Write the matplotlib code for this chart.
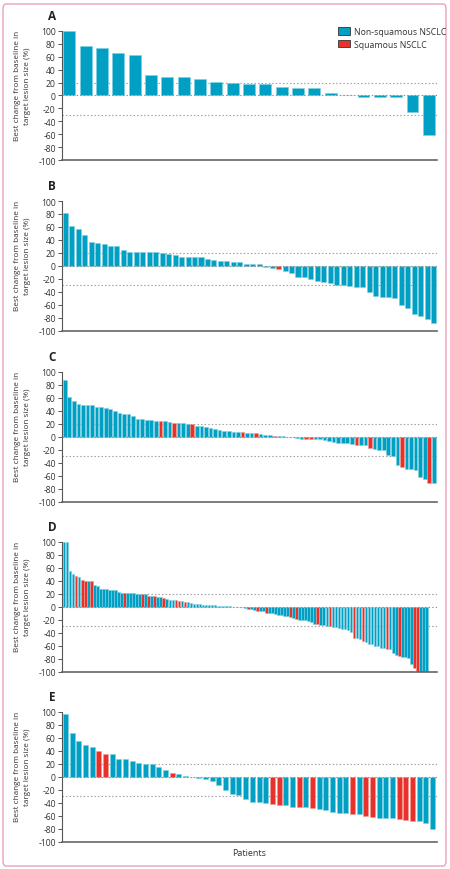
import matplotlib
matplotlib.use("Agg")
import matplotlib.pyplot as plt
from matplotlib.patches import Patch, FancyBboxPatch

plt.rcParams['font.family'] = ['Open Sans', 'DejaVu Sans']
plt.rcParams['axes.unicode_minus'] = False

# ---------------- data ----------------
panel_labels = ["A", "B", "C", "D", "E"]

a_vals = [100, 76, 73, 66, 62, 32, 29, 28, 26, 21, 20, 18, 17, 13, 12, 11, 4, 1, -2, -2, -3, -25, -61]
a_squamous = []

b_vals = [81, 61, 56, 48, 37, 35, 34, 31, 31, 24, 22, 22, 21, 21, 21, 20, 18, 17, 14, 14,
          14, 13, 10, 9, 8, 7, 6, 6, 3, 3, 2, -2, -4, -5, -8, -11, -17, -17, -21, -23,
          -25, -26, -29, -29, -31, -33, -33, -40, -46, -48, -48, -50, -60, -65, -74, -77, -82, -89]
b_squamous = [33]

c_vals = [87, 62, 55, 51, 49, 49, 49, 46, 45.5, 45, 43, 39, 37, 35, 35, 32, 28, 27, 26, 26,
          25, 25, 25, 22.5, 21.5, 21, 21, 20, 19, 17, 16, 15, 13, 12, 11, 9, 9, 7, 7, 7,
          6, 6, 6, 4, 3, 2, 1.5, 1, 0.5, 0.3, -1, -2, -3, -3, -4, -4, -4, -5, -6, -8,
          -9, -9, -10, -11, -13, -13, -13, -18, -19, -20, -21, -28, -30, -43, -47, -50, -50, -51, -62, -66,
          -72, -72]
c_squamous = [21, 24, 28, 39, 42, 46, 53, 54, 64, 67, 74, 80]

d_vals = [100, 100, 55, 51, 48, 46, 42, 40, 40, 39, 33, 32, 28, 28, 27, 26, 26, 26, 23, 22,
          21, 21, 21, 21, 20, 20, 19, 19, 17, 17, 16, 15, 15, 14, 12, 11, 11, 10, 9, 9,
          8, 7, 6, 5, 4, 4, 3, 3, 2, 2, 2, 1, 1, 1, 0.5, 0.5, 0.3, -0.3, -0.5, -1,
          -2, -3, -4, -5, -6, -6, -7, -10, -9, -10, -11, -12, -13, -14, -15, -16, -17, -19, -20, -20,
          -21, -22, -24, -26, -27, -28, -28, -29, -29, -31, -32, -33, -34, -35, -36, -39, -48, -49, -50, -53,
          -55, -57, -58, -60, -61, -63, -64, -65, -66, -71, -75, -76, -77, -78, -79, -88, -94, -100, -100, -100,
          -100]
d_squamous = [4, 6, 7, 9, 20, 26, 28, 30, 33, 37, 38, 40, 61, 64, 67, 75, 77, 84, 88, 96, 99, 107, 111, 116, 117]

e_vals = [97, 67, 55, 49, 46, 40, 35, 35, 28, 28, 24, 21, 20, 20, 15, 11, 6, 5, 1, -1,
          -2, -3, -6, -13, -21, -26, -28, -34, -39, -39, -40, -42, -43, -43, -46, -46, -47, -48, -50, -51,
          -54, -56, -56, -57, -57, -61, -62, -64, -64, -64, -65, -67, -68, -68, -72, -80]
e_squamous = [5, 6, 16, 31, 32, 35, 37, 43, 45, 46, 50, 51, 52]

yticks = [100, 80, 60, 40, 20, 0, -20, -40, -60, -80, -100]
ref_lines = [20, -30]
legend_labels = ["Non-squamous NSCLC", "Squamous NSCLC"]
ylabel_text = "Best change from baseline in\ntarget lesion size (%)"
xlabel_text = "Patients"

# ---------------- style ----------------
BLUE = "#00a0c4"
BLUE_EDGE = "#7fd0e2"
RED = "#e8312a"
RED_EDGE = "#f29a93"
TXT = "#333333"

W, H = 450, 870
fig = plt.figure(figsize=(W / 100, H / 100), dpi=100)

# pink frame
frame = FancyBboxPatch((3 / W, 3 / H), 443 / W, 862 / H, boxstyle="round,pad=0,rounding_size=0.006",
                       transform=fig.transFigure, facecolor="none", edgecolor="#e9a3b9", linewidth=1.0)
fig.patches.append(frame)

panels = [
    (a_vals, a_squamous, 31.7, 0.73, (-0.45, 0.5)),
    (b_vals, b_squamous, 202, 0.78, (-0.5, 0.5)),
    (c_vals, c_squamous, 373, 0.8, (-0.6, 0.7)),
    (d_vals, d_squamous, 543, 0.85, (-0.7, 3.5)),
    (e_vals, e_squamous, 713, 0.75, (-0.5, 0.65)),
]

left_px, right_px, h_px = 62, 437, 129.5
for (vals, sq, top_px, bw, pad), lab in zip(panels, panel_labels):
    ax = fig.add_axes([left_px / W, 1 - (top_px + h_px) / H, (right_px - left_px) / W, h_px / H])
    n = len(vals)
    x = list(range(n))
    colors = [RED if i in sq else BLUE for i in x]
    edges = [RED_EDGE if i in sq else BLUE_EDGE for i in x]
    ax.bar(x, vals, width=bw, color=colors, edgecolor=edges, linewidth=0.4, zorder=2)
    for r in ref_lines:
        ax.axhline(r, color="#9a9a9a", linestyle=(0, (1.2, 2)), linewidth=0.8, zorder=1)
    ax.axhline(0, color="#8a8a8a", linestyle=(0, (1.2, 2)), linewidth=0.8, zorder=3)
    ax.set_ylim(-100, 100)
    ax.set_xlim(pad[0], n - 1 + pad[1])
    ax.set_yticks(yticks)
    ax.set_yticklabels([str(t) for t in yticks], fontsize=6.2, color=TXT)
    ax.set_xticks([])
    for s in ["top", "right"]:
        ax.spines[s].set_visible(False)
    ax.spines["left"].set_color("#555555")
    ax.spines["left"].set_linewidth(0.8)
    ax.spines["bottom"].set_color("#666666")
    ax.spines["bottom"].set_linewidth(1.2)
    ax.tick_params(axis="y", length=3, width=0.7, color="#555555", pad=1.5)
    ax.set_ylabel(ylabel_text, fontsize=5.9, color=TXT, linespacing=1.6)
    ax.yaxis.set_label_coords(-0.082, 0.58)
    fig.text(52 / W, 1 - (top_px - 15.5) / H, lab, fontsize=8.5, fontweight="bold", color="#222222",
             ha="center", va="center")

handles = [Patch(facecolor=BLUE, edgecolor="#333333", linewidth=0.6),
           Patch(facecolor=RED, edgecolor="#333333", linewidth=0.6)]
fig.legend(handles, legend_labels, loc="upper right", bbox_to_anchor=(448 / W, 1 - 26 / H),
           frameon=False, fontsize=6.3, handlelength=1.4, handleheight=0.95, handletextpad=0.4,
           labelspacing=0.45, labelcolor=TXT, borderaxespad=0, borderpad=0.2)

fig.text((left_px + right_px) / 2 / W, 1 - 854 / H, xlabel_text, fontsize=6.5, color=TXT,
         ha="center", va="center")

fig.savefig("out.png", dpi=100)
